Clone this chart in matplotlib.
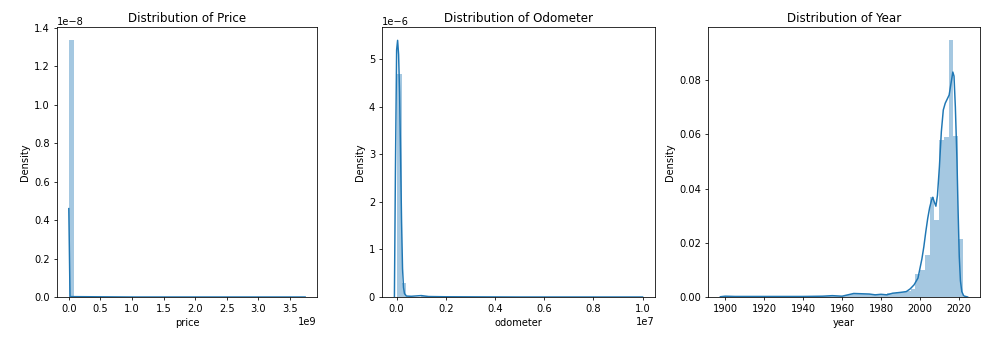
import numpy as np
import matplotlib
matplotlib.use("Agg")
import matplotlib.pyplot as plt
from matplotlib.ticker import MultipleLocator

# histogram densities (50 equal bins between min and max of each column)
price_range = (0.0, 3.7365e9)
price_hist = [1.336e-8] + [2e-13] * 49

odo_range = (0.0, 1.0e7)
odo_hist = np.array([
    4.70, 0.30, 0.020, 0.006, 0.004, 0.025, 0.003, 0.002, 0.002, 0.001,
    0.001, 0.001, 0.001, 0.001, 0.001, 0.0005, 0.0005, 0.0005, 0.0005, 0.0005,
    0.0005, 0.0005, 0.0005, 0.0005, 0.0005, 0.0005, 0.0005, 0.0005, 0.0005, 0.0005,
    0.0005, 0.0005, 0.0005, 0.0005, 0.0005, 0.0005, 0.0005, 0.0005, 0.0005, 0.0005,
    0.0005, 0.0005, 0.0005, 0.0005, 0.0005, 0.0005, 0.0005, 0.0005, 0.0005, 0.002,
]) * 1e-6

year_range = (1900, 2022)
year_hist = [
    0.0003, 0.00003, 0.00003, 0.00005, 0.00005, 0.00008, 0.0001, 0.0001, 0.0001, 0.0001,
    0.00012, 0.0001, 0.0001, 0.00015, 0.0002, 0.00015, 0.0001, 0.00015, 0.0002, 0.0002,
    0.0003, 0.0004, 0.0004, 0.0004, 0.0003, 0.0008, 0.0012, 0.0013, 0.0012, 0.0011,
    0.0010, 0.0011, 0.0009, 0.0010, 0.0014, 0.0016, 0.0018, 0.0020, 0.0022, 0.0030,
    0.0085, 0.0101, 0.0154, 0.0369, 0.0283, 0.0578, 0.0590, 0.0947, 0.0593, 0.0213,
]

# kernel density curves
price_kde_x = [0.0, 0.019e9, 1.0e9, 2.0e9, 3.0e9, 3.74e9]
price_kde_y = [0.46e-8, 0.002e-8, 0.0, 0.0, 0.0, 0.0]

odo_kde_x = [-0.9e5, -5e4, 0, 4e4, 8e4, 1.2e5, 1.6e5, 2e5, 2.4e5, 2.8e5, 3.2e5,
             4e5, 6e5, 1e6, 1.3e6, 2e6, 5e6, 1e7]
odo_kde_y = np.array([0.0, 2.6, 5.2, 5.4, 5.1, 4.3, 3.0, 1.6, 0.6, 0.2, 0.07,
                      0.02, 0.015, 0.03, 0.01, 0.005, 0.0, 0.0]) * 1e-6

year_kde_x = [1897.5, 1900, 1905, 1910, 1920, 1930, 1940, 1950, 1955, 1960,
              1963, 1966, 1970, 1974, 1977, 1980, 1983, 1986, 1990, 1993,
              1995, 1997, 1999, 2000, 2001, 2002, 2003, 2004, 2005, 2006,
              2006.6, 2007.3, 2008.2, 2009, 2010, 2011, 2012, 2013, 2014, 2015,
              2016, 2016.9, 2017.5, 2018.2, 2019, 2019.6, 2020.2, 2020.8, 2021.5, 2022.5,
              2024.5]
year_kde_y = [0.0001, 0.0003, 0.0002, 0.0002, 0.0002, 0.0002, 0.0002, 0.0003, 0.0005, 0.0003,
              0.0008, 0.0013, 0.0012, 0.0011, 0.0008, 0.0010, 0.0008, 0.0014, 0.0017, 0.0020,
              0.0030, 0.0045, 0.0070, 0.0105, 0.0140, 0.0185, 0.0240, 0.0290, 0.0330, 0.0358,
              0.0368, 0.0352, 0.0335, 0.0375, 0.0480, 0.0610, 0.0690, 0.0715, 0.0730, 0.0745,
              0.0790, 0.0830, 0.0815, 0.0700, 0.0510, 0.0320, 0.0150, 0.0060, 0.0020, 0.0004,
              0.0]

panels = [
    ("Distribution of Price", "price", price_range, price_hist, price_kde_x, price_kde_y, 0.5e9),
    ("Distribution of Odometer", "odometer", odo_range, odo_hist, odo_kde_x, odo_kde_y, 0.2e7),
    ("Distribution of Year", "year", year_range, year_hist, year_kde_x, year_kde_y, 20),
]

dpi = 71
fig = plt.figure(figsize=(993 / dpi, 337 / dpi))
boxes = [
    [0.0574, 0.1187, 0.2618, 0.7997],
    [0.3847, 0.1187, 0.2749, 0.7997],
    [0.7130, 0.1187, 0.2739, 0.7997],
]

for box, (title, col, rng, hist, kx, ky, step) in zip(boxes, panels):
    ax = fig.add_axes(box)
    edges = np.linspace(rng[0], rng[1], len(hist) + 1)
    centers = (edges[:-1] + edges[1:]) / 2
    ax.hist(centers, bins=edges, weights=hist, color="C0", alpha=0.4)
    ax.plot(kx, ky, color="C0", lw=1.5)
    ax.set_ylim(bottom=0)
    ax.xaxis.set_major_locator(MultipleLocator(step))
    ax.set_title(title)
    ax.set_xlabel(col)
    ax.set_ylabel("Density")

fig.savefig("out.png", dpi=dpi)
